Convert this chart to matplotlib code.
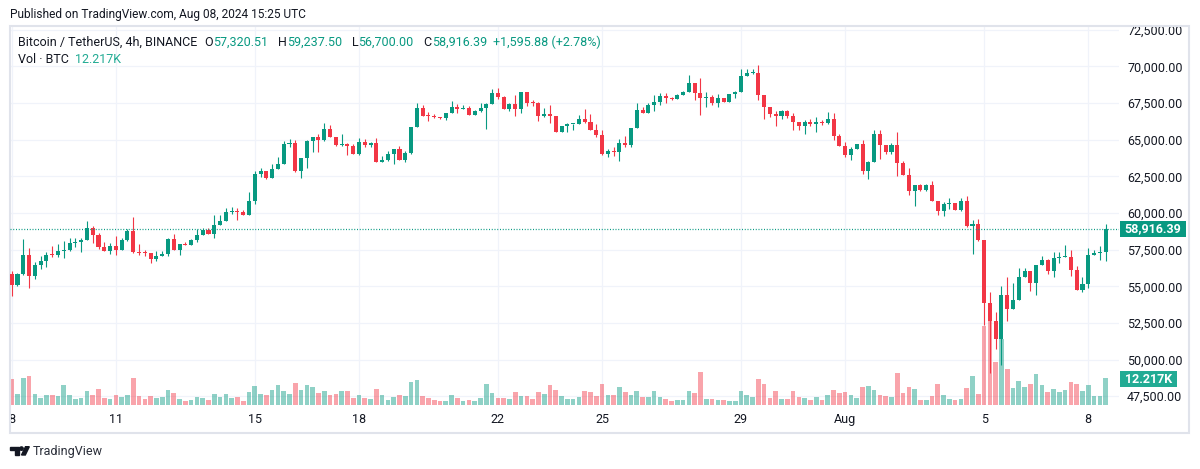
import matplotlib
matplotlib.use("Agg")
import matplotlib.pyplot as plt
import matplotlib.patches as mpatches
from matplotlib.ticker import FuncFormatter
import numpy as np

# BTC/USDT 4h candles, Jul 08 00:00 -> Aug 08 12:00 (UTC)
first_open = 55870
closes = [
    55120, 55870, 57160, 55730, 56480, 56750,   # Jul 8
    57160, 57120, 57430, 57480, 57930, 58050,   # Jul 9
    58180, 58980, 58520, 57660, 57390, 57770,   # Jul 10
    57500, 58180, 58800, 57340, 57300, 57250,   # Jul 11
    56890, 57090, 57230, 58250, 57500, 57910,   # Jul 12
    57800, 58180, 58520, 58860, 58590, 59200,   # Jul 13
    59480, 60090, 60100, 60050, 59890, 60840,   # Jul 14
    62680, 62880, 62380, 63020, 63360, 64720,   # Jul 15
    64770, 62880, 63750, 64930, 65180, 65000,   # Jul 16
    65740, 65220, 64650, 64700, 64540, 64040,   # Jul 17
    64840, 64650, 64770, 63500, 63590, 64050,   # Jul 18
    64390, 63640, 64100, 65870, 67180, 66640,   # Jul 19
    66600, 66550, 66460, 66840, 67230, 67110,   # Jul 20
    67180, 66660, 66930, 67180, 67450, 68180,   # Jul 21
    67890, 67130, 67430, 67070, 68270, 67520,   # Jul 22
    67480, 66590, 66730, 66640, 65500, 65960,   # Jul 23
    66090, 66090, 66440, 66180, 65640, 65340,   # Jul 24
    64060, 64240, 64190, 64780, 64670, 65790,   # Jul 25
    67030, 66850, 67370, 67600, 67980, 67870,   # Jul 26
    67800, 68040, 68270, 68880, 68200, 67860,   # Jul 27
    67930, 67520, 67840, 67590, 68110, 68270,   # Jul 28
    69320, 69550, 69570, 68060, 67250, 66760,   # Jul 29
    66590, 66980, 66590, 66180, 65910, 66210,   # Jul 30
    66070, 66230, 66120, 66410, 65230, 64590,   # Jul 31
    63940, 64370, 64730, 62890, 63460, 65410,   # Aug 1
    64620, 64140, 64660, 63410, 62620, 61480,   # Aug 2
    61940, 61600, 61940, 60850, 60160, 60620,   # Aug 3
    60690, 60200, 60800, 59100, 59280, 58150,   # Aug 4
    53850, 52650, 51370, 54400, 53450, 54080,   # Aug 5
    55660, 56020, 55250, 56430, 56770, 56040,   # Aug 6
    56900, 56970, 56990, 56110, 54760, 55140,   # Aug 7
    57110, 57240, 57320.51, 58916.39,           # Aug 8
]
highs = [
    56070, 55900, 58250, 57640, 56660, 57050,
    57370, 57780, 57910, 58120, 58300, 58300,
    58300, 59480, 59090, 58620, 58020, 57930,
    58460, 58300, 58910, 59700, 57890, 57500,
    57250, 57430, 57390, 58300, 58550, 57910,
    58000, 58250, 58930, 58980, 58990, 59860,
    59860, 60360, 60430, 60320, 60190, 61450,
    62840, 63060, 62880, 63360, 63810, 64900,
    65040, 64950, 63750, 65000, 65180, 65400,
    66130, 66000, 65220, 65400, 64790, 64680,
    65110, 65040, 64840, 65130, 63910, 64200,
    64390, 64550, 64210, 65870, 67500, 67380,
    66860, 66730, 66550, 66840, 67660, 67460,
    67390, 67270, 67050, 67500, 67500, 68450,
    68520, 67950, 67520, 68020, 68270, 68270,
    67700, 67590, 67180, 67390, 66640, 65960,
    66140, 66090, 66660, 67100, 66760, 66085,
    65680, 64400, 64500, 65050, 65230, 65790,
    67480, 67250, 67520, 68070, 68200, 68160,
    67930, 68090, 68310, 69390, 68880, 69210,
    68240, 68020, 68090, 67840, 68110, 68310,
    69820, 69840, 69800, 70070, 68060, 67250,
    66930, 67050, 67050, 66820, 66230, 66370,
    66410, 66550, 66360, 66890, 66820, 65410,
    64820, 64530, 64730, 65000, 63550, 65680,
    65680, 64620, 64780, 65500, 63550, 63050,
    61940, 62010, 62010, 62200, 60850, 60780,
    61030, 60690, 61030, 61130, 59550, 59620,
    58150, 54580, 53220, 55030, 55640, 55210,
    56270, 56270, 56020, 56430, 57060, 56840,
    57330, 57330, 57790, 57510, 56380, 55640,
    57630, 57450, 57740, 59237.50,
]
lows = [
    54330, 55000, 55750, 54850, 55530, 56200,
    56300, 57000, 57000, 56900, 57390, 57680,
    57320, 58180, 57960, 57570, 57390, 57210,
    57120, 57500, 58120, 57280, 57160, 57100,
    56600, 56750, 57090, 57090, 57500, 57160,
    57800, 57800, 58000, 58520, 58590, 58320,
    59200, 59480, 59950, 59500, 59890, 59890,
    60630, 62470, 62320, 62380, 63020, 63360,
    64500, 62810, 62410, 63100, 64130, 64130,
    64930, 65220, 64600, 64600, 63930, 64040,
    63930, 64500, 64500, 63450, 63450, 63520,
    63320, 63640, 63460, 64050, 65870, 66640,
    66250, 66500, 66410, 66320, 66800, 66830,
    67070, 66660, 66660, 66890, 65750, 67450,
    67810, 67130, 66930, 66590, 66840, 67270,
    67270, 66250, 66520, 66140, 65500, 65500,
    65500, 65640, 66060, 66175, 65635, 65185,
    63950, 63840, 63900, 63540, 64490, 64490,
    65790, 66850, 66850, 66960, 67370, 67480,
    67710, 67800, 68040, 68270, 67700, 66690,
    67250, 67360, 67230, 67590, 67590, 67880,
    68270, 69320, 69460, 67700, 66420, 66580,
    65910, 66410, 66480, 65640, 65640, 65370,
    65910, 65550, 65980, 66090, 65000, 64590,
    63800, 63640, 64370, 62690, 62350, 63460,
    63710, 64030, 64030, 62510, 62620, 61250,
    60510, 61480, 61480, 60850, 59870, 59830,
    60250, 60200, 60110, 59050, 57180, 58080,
    52360, 49080, 50690, 49600, 52650, 53450,
    54080, 55660, 54690, 54400, 56430, 55820,
    55640, 56610, 56970, 55710, 54760, 54620,
    54900, 57110, 56770, 56700.00,
]
# volume in thousands of BTC
volumes = [
    11.6, 4.8, 12.0, 13.1, 4.8, 3.0, 4.4, 4.4, 3.9, 8.9,
    4.4, 2.6, 3.0, 6.2, 4.4, 7.1, 3.0, 2.6, 4.4, 3.5,
    4.4, 12.0, 3.9, 2.6, 3.9, 3.0, 3.5, 6.6, 5.3, 2.6,
    1.7, 2.1, 3.5, 3.0, 2.1, 4.8, 3.5, 4.8, 3.0, 3.5,
    1.7, 5.7, 8.4, 4.8, 4.4, 6.6, 8.9, 6.2, 4.8, 9.8,
    6.6, 8.9, 8.0, 5.3, 6.2, 4.4, 4.8, 6.2, 6.2, 3.0,
    4.4, 3.0, 2.6, 7.1, 4.4, 2.1, 3.5, 4.4, 3.9, 10.2,
    11.1, 3.9, 3.0, 2.1, 1.7, 1.7, 4.4, 3.0, 1.7, 2.1,
    1.7, 3.0, 9.3, 5.3, 3.0, 3.0, 2.6, 5.7, 3.9, 3.9,
    2.6, 5.7, 4.8, 8.9, 6.6, 3.9, 2.6, 2.6, 3.5, 6.2,
    5.7, 3.9, 9.3, 4.4, 4.4, 8.0, 5.7, 4.4, 6.2, 3.5,
    3.5, 6.2, 3.5, 2.6, 1.7, 2.1, 2.1, 6.2, 5.3, 14.8,
    2.6, 2.6, 2.1, 2.1, 1.7, 1.7, 6.2, 4.4, 3.5, 11.6,
    9.3, 3.0, 6.2, 2.6, 2.6, 6.2, 3.5, 3.0, 2.1, 3.5,
    2.1, 4.4, 6.6, 5.3, 5.7, 4.4, 3.0, 8.0, 8.4, 6.6,
    4.4, 3.9, 3.5, 14.3, 5.3, 8.0, 7.1, 2.1, 2.1, 3.9,
    9.3, 4.4, 2.6, 2.1, 2.6, 7.5, 13.0, 4.8, 35.9, 38.1,
    19.6, 29.8, 16.3, 7.7, 10.8, 8.1, 9.5, 14.0, 9.0, 5.9,
    7.2, 5.9, 6.8, 10.4, 9.5, 6.3, 9.0, 4.1, 4.1, 12.217,
]
tick_idx = [0, 18, 42, 60, 84, 102, 126, 144, 168, 186]
tick_labels = ["8", "11", "15", "18", "22", "25", "29", "Aug", "5", "8"]
price_ticks = [47500, 50000, 52500, 55000, 57500, 60000, 62500, 65000, 67500, 70000, 72500]
last_price = 58916.39

UP = "#089981"
DOWN = "#f23645"
TEXT = "#131722"
GRID = "#f0f3fa"
FONT = ["Roboto", "DejaVu Sans"]

W, H = 1200, 469


def rect(x0, y0, x1, y1):
    # figure-pixel box (top-left origin) -> figure fraction
    return [x0 / W, 1 - y1 / H, (x1 - x0) / W, (y1 - y0) / H]


c = np.array(closes, dtype=float)
o = np.concatenate([[first_open], c[:-1]])
hi = np.maximum(np.array(highs, dtype=float), np.maximum(o, c))
lo = np.minimum(np.array(lows, dtype=float), np.minimum(o, c))
vol = np.array(volumes)
idx = np.arange(len(c))
up = c >= o

fig = plt.figure(figsize=(W / 100, H / 100), dpi=100, facecolor="white")
plt.rcParams["font.family"] = FONT

plot_box = rect(10, 26, 1119, 405)
xlim = (-0.294, 191.31)
ylim = (46900, 72760)

# grid + price scale
ax_g = fig.add_axes(plot_box, zorder=0)
ax_g.set_xlim(xlim)
ax_g.set_ylim(ylim)
ax_g.set_xticks(tick_idx)
ax_g.set_yticks(price_ticks)
ax_g.yaxis.tick_right()
ax_g.yaxis.set_major_formatter(FuncFormatter(lambda v, p: f"{v:,.2f}"))
ax_g.tick_params(axis="y", length=0, pad=5.8, labelsize=9, labelcolor=TEXT)
ax_g.tick_params(axis="x", length=0, labelbottom=False)
ax_g.grid(True, color=GRID, lw=0.9)
for s in ax_g.spines.values():
    s.set_visible(False)

# volume overlay
ax_v = fig.add_axes(plot_box, zorder=1)
ax_v.set_xlim(xlim)
ax_v.set_ylim(0, 379 * 0.4525)
ax_v.patch.set_visible(False)
ax_v.axis("off")
ax_v.bar(idx, vol, width=0.8, color=np.where(up, UP, DOWN), alpha=0.45, linewidth=0)

# candles
ax = fig.add_axes(plot_box, zorder=2)
ax.set_xlim(xlim)
ax.set_ylim(ylim)
ax.patch.set_visible(False)
ax.axis("off")
colors = np.where(up, UP, DOWN)
ax.vlines(idx, lo, hi, colors=colors, lw=0.8)
body = np.maximum(np.abs(c - o), 70)
ax.bar(idx, body, bottom=np.minimum(o, c), width=0.7, color=colors, linewidth=0)
ax.axhline(last_price, color=UP, lw=0.9, linestyle=(0, (0.8, 1.4)))

# time scale
ax_t = fig.add_axes(rect(11, 405, 1119, 433), zorder=1)
ax_t.set_xlim(-0.121, 191.31)
ax_t.set_ylim(0, 1)
ax_t.axis("off")
for i, lab in zip(tick_idx, tick_labels):
    ax_t.text(i, 0.47, lab, ha="center", va="center", fontsize=9, color=TEXT, clip_on=True)

# outer frame
fig.patches.append(mpatches.Rectangle((9.5 / W, 1 - 433 / H), 1179.5 / W, 407 / H,
                                      transform=fig.transFigure, fill=False,
                                      edgecolor="#e0e3eb", lw=1.5))

# price / volume labels on the scale
def scale_label(y0, y1, x1, txt, col):
    fig.patches.append(mpatches.Rectangle((1120 / W, 1 - y1 / H), (x1 - 1120) / W, (y1 - y0) / H,
                                          transform=fig.transFigure, color=col, lw=0, zorder=5))
    fig.text((1120 + x1) / 2 / W, 1 - (y0 + y1) / 2 / H, txt, ha="center", va="center",
             fontsize=9, color="white", fontweight="bold", zorder=6)

scale_label(220.7, 237.3, 1186, f"{last_price:,.2f}", UP)
scale_label(370.7, 387.3, 1177, f"{vol[-1]:.3f}K", "#22ab94")

# header texts
fig.text(10 / W, 1 - 14.5 / H, "Published on TradingView.com, Aug 08, 2024 15:25 UTC",
         fontsize=8.6, color=TEXT, va="center")

renderer = fig.canvas.get_renderer()


def text_row(pieces, x, y):
    for txt, col, gap in pieces:
        t = fig.text(x / W, 1 - y / H, txt, fontsize=9, color=col, va="center", ha="left")
        x += t.get_window_extent(renderer).width + gap


chg = closes[-1] - closes[-2]
text_row([
    ("Bitcoin / TetherUS, 4h, BINANCE", TEXT, 7),
    ("O", TEXT, 0), (f"{o[-1]:,.2f}", UP, 10),
    ("H", TEXT, 0), (f"{hi[-1]:,.2f}", UP, 10),
    ("L", TEXT, 0), (f"{lo[-1]:,.2f}", UP, 10),
    ("C", TEXT, 0), (f"{c[-1]:,.2f}", UP, 6),
    (f"+{chg:,.2f} (+{chg / closes[-2] * 100:.2f}%)", UP, 0),
], 18, 42)
text_row([("Vol · BTC", TEXT, 6), (f"{vol[-1]:.3f}K", "#22ab94", 0)], 18, 59.5)

# TradingView logo + name
def px(x, y):
    return (x / W, 1 - y / H)

fig.patches.append(mpatches.Polygon([px(10, 446.7), px(19.3, 446.7), px(19.3, 455), px(15, 455),
                                     px(15, 450), px(10, 450)], closed=True,
                                    transform=fig.transFigure, color="#131722"))
fig.patches.append(mpatches.Ellipse(px(21.5, 448.6), 3.4 / W, 3.4 / H,
                                    transform=fig.transFigure, color="#131722"))
fig.patches.append(mpatches.Polygon([px(21.5, 455), px(25.3, 455), px(29.3, 446.7), px(25.5, 446.7)],
                                    closed=True, transform=fig.transFigure, color="#131722"))
fig.text(33 / W, 1 - 451 / H, "TradingView", fontsize=9, color="#2a2e39", va="center")

fig.savefig("out.png", dpi=100, facecolor="white")
